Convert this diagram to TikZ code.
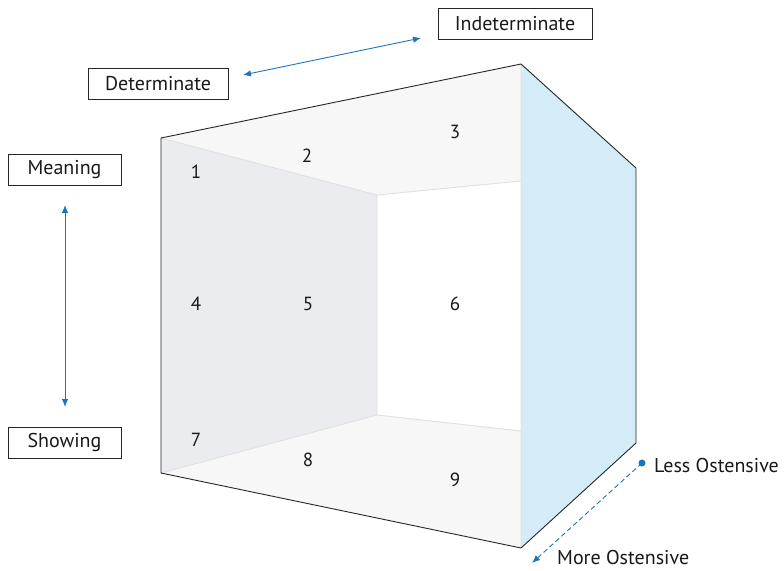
\documentclass[tikz,border=0pt]{standalone}
\usepackage{fontspec}
\setmainfont{PT Sans}
\usetikzlibrary{arrows.meta}
\begin{document}
\begin{tikzpicture}[x=1pt, y=-1pt,
  tag/.style={draw=black!85, line width=0.8pt, inner sep=0pt, minimum height=31pt, text=black!90, font=\fontsize{20}{24}\selectfont},
  num/.style={text=black!90, font=\fontsize{19}{22}\selectfont},
  side/.style={text=black!90, font=\fontsize{20}{24}\selectfont, anchor=base west, inner sep=0pt},
  axis/.style={draw=axisblue, line width=0.9pt, {Latex[length=8pt,width=6.5pt]}-{Latex[length=8pt,width=6.5pt]}},
  seam/.style={draw=black!12, line width=0.9pt}]
\useasboundingbox (0,0) rectangle (784,570);
\definecolor{axisblue}{HTML}{1C75BC}
\definecolor{wallgrey}{HTML}{EBECF0}
\definecolor{floorgrey}{HTML}{F7F7F7}
\definecolor{sideblue}{HTML}{D3ECF7}
% corners of the box
\coordinate (otl) at (161,138);
\coordinate (obl) at (161,473);
\coordinate (otr) at (521,64);
\coordinate (obr) at (521,548);
\coordinate (rt) at (636,168);
\coordinate (rb) at (636,443);
\coordinate (itl) at (377,195);
\coordinate (ibl) at (377,415);
\coordinate (itr) at (521,181);
\coordinate (ibr) at (521,431);
% panels
\fill[wallgrey] (otl) -- (itl) -- (ibl) -- (obl) -- cycle;
\fill[floorgrey] (otl) -- (otr) -- (itr) -- (itl) -- cycle;
\fill[floorgrey] (obl) -- (ibl) -- (ibr) -- (obr) -- cycle;
\fill[sideblue] (otr) -- (rt) -- (rb) -- (obr) -- cycle;
\draw[seam] (otl) -- (itl) -- (itr) (ibr) -- (ibl) -- (obl) (itl) -- (ibl) (otr) -- (obr);
\draw[black!85, line width=0.9pt, line join=miter] (otl) -- (otr) -- (rt) -- (rb) -- (obr) -- (obl) -- cycle;
% cells
\node[num] (n1) at (196,172) {1};
\node[num] (n2) at (307,156) {2};
\node[num] (n3) at (455,132) {3};
\node[num] (n4) at (196,304) {4};
\node[num] (n5) at (308,304) {5};
\node[num] (n6) at (455,304) {6};
\node[num] (n7) at (196,440) {7};
\node[num] (n8) at (308,460) {8};
\node[num] (n9) at (455,480) {9};
% labels
\node[tag, minimum width=154pt] (indet) at (515,23.5) {Indeterminate};
\node[tag, minimum width=140pt] (det) at (158,83.5) {Determinate};
\node[tag, minimum width=113pt] (mean) at (64.5,170) {Meaning};
\node[tag, minimum width=113pt] (show) at (64.5,442.5) {Showing};
\node[side] (less) at (654,472.5) {Less Ostensive};
\node[side] (more) at (557,564) {More Ostensive};
% axes
\coordinate (dA) at (243,75);
\coordinate (dB) at (421,38);
\coordinate (mA) at (65,205);
\coordinate (mB) at (65,407);
\coordinate (oA) at (642,463);
\coordinate (oB) at (532,563);
\draw[axis] (dA) -- (dB);
\draw[axis] (mA) -- (mB);
\fill[axisblue] (oA) circle (3.5pt);
\draw[axisblue, line width=0.9pt, dash pattern=on 5pt off 3pt, -{Latex[length=8pt,width=6.5pt]}] (oA) -- (oB);
\end{tikzpicture}
\end{document}
